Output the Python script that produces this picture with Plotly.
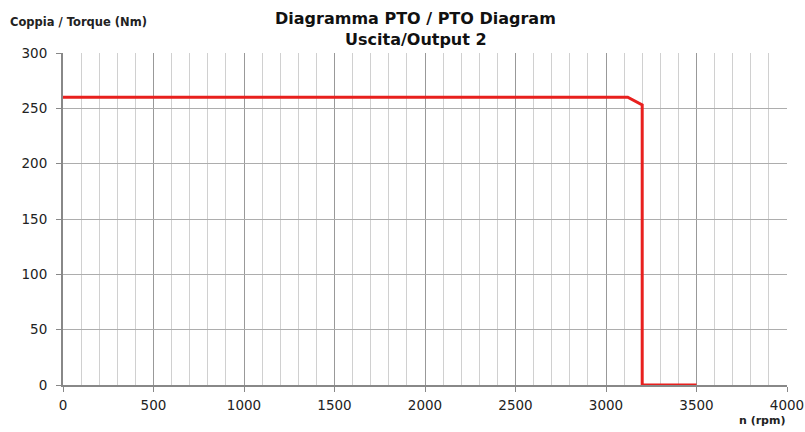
import plotly.graph_objects as go

rpm = [0, 3120, 3200, 3200, 3500]
torque = [260, 260, 253, 0, 0]

fig = go.Figure()
fig.add_trace(go.Scatter(x=rpm, y=torque, mode="lines",
                         line=dict(color="#E8201E", width=3), showlegend=False))

font = "'DejaVu Sans', sans-serif"
fig.update_layout(
    width=805, height=432,
    margin=dict(l=63, r=18, t=53, b=47, autoexpand=False),
    paper_bgcolor="white", plot_bgcolor="white",
    font=dict(family=font, color="#222"),
)
fig.update_xaxes(range=[0, 4000], dtick=500, tick0=0, automargin=False,
                 showgrid=True, gridcolor="#999999", gridwidth=1,
                 minor=dict(dtick=100, showgrid=True, gridcolor="#d0d0d0", gridwidth=1),
                 ticks="outside", ticklen=5, tickcolor="#888",
                 showline=True, linecolor="#888", linewidth=2, ticklabelstandoff=2,
                 zeroline=False, tickfont=dict(size=13.5, color="#222"))
fig.update_yaxes(range=[0, 300], dtick=50, tick0=0, automargin=False,
                 showgrid=True, gridcolor="#adadad", gridwidth=1,
                 ticks="outside", ticklen=5, tickcolor="#888",
                 showline=True, linecolor="#888", linewidth=2, ticklabelstandoff=6,
                 zeroline=False, tickfont=dict(size=13.5, color="#222"))
fig.add_annotation(text="<b>Diagramma PTO / PTO Diagram</b>", xref="paper", yref="paper",
                   x=0.487, y=1.105, xanchor="center", yanchor="middle", showarrow=False,
                   font=dict(size=16, color="#111"))
fig.add_annotation(text="<b>Uscita/Output 2</b>", xref="paper", yref="paper",
                   x=0.487, y=1.04, xanchor="center", yanchor="middle", showarrow=False,
                   font=dict(size=16, color="#111"))
fig.add_annotation(text="<b>Coppia / Torque (Nm)</b>", xref="paper", yref="paper",
                   x=-0.076, y=1.093, xanchor="left", yanchor="middle", showarrow=False,
                   font=dict(size=11.5, color="#222"))
fig.add_annotation(text="<b>n (rpm)</b>", xref="paper", yref="paper",
                   x=1.0, y=-0.108, xanchor="right", yanchor="middle", showarrow=False,
                   font=dict(size=11, color="#222"))
fig.write_html("out.html", config={"displayModeBar": False})

with open("out.html", encoding="utf-8") as f:
    html = f.read()
html = html.replace("<head>", "<head><style>html,body{margin:0;padding:0;overflow:hidden}</style>", 1)
with open("out.html", "w", encoding="utf-8") as f:
    f.write(html)
